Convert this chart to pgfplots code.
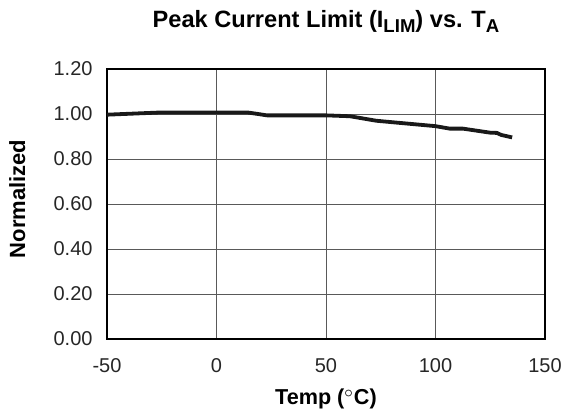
\documentclass[border=0pt]{standalone}
\usepackage{fontspec}
\setmainfont{Liberation Sans}
\usepackage{pgfplots}
\pgfplotsset{compat=1.18}
\newcommand{\tsub}[1]{\raisebox{-0.22em}{\fontsize{9.3}{10}\selectfont #1}}
\begin{document}
\begin{tikzpicture}
\path[use as bounding box] (-53.5pt,-35pt) rectangle (228.5pt,169.5pt);
\begin{axis}[
  scale only axis,
  width=219pt, height=135pt,
  xmin=-50, xmax=150, ymin=0, ymax=1.2,
  xtick={-50,0,50,100,150},
  ytick={0,0.2,0.4,0.6,0.8,1.0,1.2},
  yticklabel style={/pgf/number format/fixed, /pgf/number format/fixed zerofill, /pgf/number format/precision=2, xshift=-3.7pt},
  /pgf/number format/assume math mode=true,
  major tick length=0pt,
  grid=major,
  major grid style={black!65, line width=0.45pt},
  axis line style={black, line width=0.9pt},
  tick label style={font=\fontsize{10}{12}\selectfont, text=black!85},
  xticklabel style={yshift=-6pt},
  title={\textbf{Peak Current Limit (I\tsub{LIM}) vs. T\tsub{A}}},
  title style={at={(axis description cs:0.5,1)}, anchor=base, yshift=15pt, font=\fontsize{11.8}{13}\selectfont},
  xlabel={\textbf{Temp ($^{\circ}$C)}},
  xlabel style={at={(axis description cs:0.5,-0.2444)}, anchor=base, font=\fontsize{10.8}{13}\selectfont},
  ylabel={\textbf{Normalized}},
  ylabel style={at={(axis description cs:-0.187,0.5185)}, anchor=base, font=\fontsize{11}{13}\selectfont},
]
\addplot[black!90, line width=1.9pt, line join=round] coordinates {
(-50,0.997) (-35,1.003) (-25,1.007) (14,1.007) (19,1.0) (23,0.994) (50,0.994)
(61,0.99) (67,0.98) (73,0.97) (100,0.946) (106.5,0.935) (112.5,0.935)
(125,0.917) (128,0.916) (130,0.907) (135,0.896)
};
\end{axis}
\end{tikzpicture}
\end{document}
